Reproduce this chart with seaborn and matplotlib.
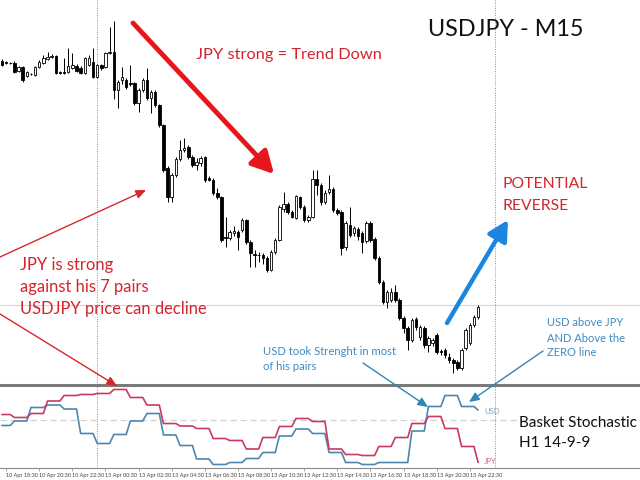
import numpy as np
import pandas as pd
import seaborn as sns
import matplotlib
matplotlib.use("Agg")
import matplotlib.pyplot as plt
from matplotlib.patches import FancyArrowPatch

sns.set_theme(style="white")
plt.rcParams['font.family'] = ['Lato', 'DejaVu Sans']

# USDJPY M15 candles, 10 Apr 18:15 .. 13 Apr 23:00 (price in chart points)
opens = [339, 338, 337, 337, 329, 333, 324, 326, 325, 333, 337, 341, 343, 344, 328, 328,
         328, 332, 334, 332, 327, 335, 338, 323, 335, 333, 347, 348,
         310, 320, 320, 317, 317, 297, 310, 320, 302, 308, 295, 275, 232, 203, 225, 241,
         250, 253, 243, 235, 237, 243, 222, 220, 207, 203,
         163, 162, 167, 168, 170, 180, 158, 146, 145, 145, 142, 130, 148, 160, 191, 196,
         188, 182, 203, 193, 180, 183, 221, 215, 198, 208, 211, 190, 188, 153, 175,
         167, 171, 167, 159, 177, 161, 142, 118, 98, 100, 108, 100, 82, 72, 60, 81,
         63, 72, 55, 57, 65, 49, 50, 43, 40, 38, 32, 52, 57, 75, 83]
highs = [341, 339, 338, 339, 334, 334, 329, 327, 334, 340, 345, 348, 346, 345, 329, 342,
         352, 347, 336, 334, 343, 345, 352, 336, 336, 348, 373, 379,
         320, 333, 322, 335, 318, 312, 322, 332, 310, 310, 296, 276, 234, 227, 243, 260,
         262, 255, 245, 242, 244, 244, 224, 222, 212, 204,
         183, 170, 174, 170, 182, 181, 160, 150, 148, 147, 144, 150, 162, 195, 208, 198,
         190, 205, 204, 195, 185, 230, 230, 217, 210, 225, 213, 192, 190, 179, 193,
         174, 173, 169, 179, 179, 163, 144, 120, 110, 112, 115, 102, 84, 74, 82, 83,
         75, 74, 64, 62, 67, 51, 52, 47, 42, 40, 52, 72, 77, 85, 95]
lows = [334, 336, 336, 327, 328, 318, 323, 325, 324, 332, 336, 340, 342, 326, 326, 326,
        327, 331, 328, 326, 326, 334, 322, 322, 330, 332, 346, 301,
        292, 316, 311, 314, 295, 288, 308, 300, 287, 293, 273, 228, 198, 198, 223, 239,
        248, 241, 233, 230, 234, 218, 219, 205, 201, 158,
        153, 160, 164, 150, 168, 156, 133, 133, 138, 136, 128, 129, 146, 159, 188, 186,
        182, 181, 191, 178, 178, 182, 205, 195, 196, 206, 188, 185, 145, 150, 163,
        164, 160, 147, 157, 158, 140, 116, 96, 92, 98, 98, 80, 67, 50, 58, 70,
        60, 52, 48, 54, 46, 45, 42, 37, 27, 30, 30, 50, 55, 73, 81]
closes = [335, 337, 337, 328, 333, 320, 328, 326, 333, 338, 342, 343, 344, 327, 327, 327,
          334, 335, 329, 327, 342, 342, 323, 335, 332, 347, 348, 310,
          318, 323, 313, 316, 297, 310, 320, 302, 308, 295, 275, 230, 203, 225, 241, 250,
          252, 243, 235, 238, 242, 220, 220, 207, 203, 160,
          162, 168, 169, 163, 180, 158, 147, 145, 145, 142, 130, 148, 160, 193, 196, 188,
          183, 204, 193, 180, 183, 221, 215, 198, 207, 211, 190, 187, 152, 177, 165,
          172, 164, 158, 177, 160, 142, 118, 98, 108, 108, 100, 82, 72, 60, 80, 73,
          73, 55, 62, 60, 48, 48, 45, 40, 37, 32, 50, 70, 75, 83, 93]

# Basket Stochastic H1 14-9-9, one value per hour (18:00 .. 23:00)
usd_h1 = [-11, -2, 25, 30, 22, -27, -47, -29, -2, 13, -30, -51, -78, -89, -85,
          -77, -65, -32, -18, -27, -65, -85, -89, -85, -85, -22, 27, 49, 27, 20]
jpy_h1 = [11, 5, 13, 38, 49, 51, 53, 61, 45, 30, -7, -12, -17, -37, -41,
          -58, -35, -13, 3, -3, -58, -69, -71, -53, -35, -7, 7, -17, -53, -85]
bars_per_hour = [3] + [4] * 28 + [1]

tick_labels = ["10 Apr 18:30", "10 Apr 20:30", "10 Apr 22:30", "13 Apr 00:30",
               "13 Apr 02:30", "13 Apr 04:30", "13 Apr 06:30", "13 Apr 08:30",
               "13 Apr 10:30", "13 Apr 12:30", "13 Apr 14:30", "13 Apr 16:30",
               "13 Apr 18:30", "13 Apr 20:30", "13 Apr 22:30"]

o = np.array(opens); h = np.array(highs); l = np.array(lows); c = np.array(closes)
x = np.arange(len(o))
up = c >= o

fig = plt.figure(figsize=(6.4, 4.8), dpi=100)
fig.patch.set_facecolor('white')
ax1 = fig.add_axes([0, 95 / 480, 1, 385 / 480])
ax2 = fig.add_axes([0, 12.3 / 480, 1, 82.7 / 480])
xlim = (-0.48, 154.1)

# price panel
ax1.axhline(95, color='#d6d6d6', lw=0.8, zorder=1)
ax1.vlines(x, l, h, color='black', lw=0.7, zorder=2)
ax1.bar(x[up], c[up] - o[up], bottom=o[up], width=0.6, color='white',
        edgecolor='black', lw=0.6, zorder=3)
ax1.bar(x[~up], o[~up] - c[~up], bottom=c[~up], width=0.6, color='black',
        edgecolor='black', lw=0.6, zorder=3)
ax1.set_xlim(*xlim)
ax1.set_ylim(15, 400)
ax1.set_xticks([]); ax1.set_yticks([])
for s in ax1.spines.values():
    s.set_visible(False)

# indicator panel
df = pd.DataFrame({
    'bar': np.concatenate([x, x]),
    'value': np.concatenate([np.repeat(usd_h1, bars_per_hour), np.repeat(jpy_h1, bars_per_hour)]),
    'currency': ['USD'] * len(x) + ['JPY'] * len(x),
})
ax2.axhline(0, color='#d0d0d0', ls=(0, (5, 3)), lw=0.9, zorder=1)
sns.lineplot(data=df, x='bar', y='value', hue='currency',
             palette={'USD': '#4e86ad', 'JPY': '#c93a5f'}, lw=1.2,
             errorbar=None, legend=False, ax=ax2)
ax2.text(116.4, 18, 'USD', fontsize=5.5, color='#7ca4c2', va='center')
ax2.text(116.4, -84, 'JPY', fontsize=5.5, color='#d46a88', va='center')
ax2.set_xlim(*xlim)
ax2.set_ylim(-95.4, 70)
ax2.set_yticks([])
ax2.set_xticks(range(1, 116, 8))
ax2.set_xticklabels(tick_labels, ha='left', fontsize=4, color='#444444')
ax2.tick_params(axis='x', length=2, width=0.5, color='#888888', pad=1.5, bottom=True)
ax2.set_xlabel(''); ax2.set_ylabel('')
ax2.set_facecolor('none')
for side in ['left', 'right']:
    ax2.spines[side].set_visible(False)
ax2.spines['top'].set_color('#7a7a7a'); ax2.spines['top'].set_linewidth(2.2)
ax2.spines['bottom'].set_color('#8a8a8a'); ax2.spines['bottom'].set_linewidth(0.8)

for ax in (ax1, ax2):
    for sep in (23, 119):
        ax.axvline(sep, color='#8c8c8c', ls=(0, (1, 1.5)), lw=0.7, zorder=1)


def fp(px, py):
    return (px / 640, 1 - py / 480)


def note(px, tops, lines, **kw):
    # one text per line, each placed at its own top edge (pixels from the top)
    for py, s in zip(tops, lines):
        fig.text(*fp(px, py), s, va='top', ha='left', **kw)


def arrow(a, b, color, lw, style, scale):
    fig.add_artist(FancyArrowPatch(fp(*a), fp(*b), transform=fig.transFigure,
                                   arrowstyle=style, mutation_scale=scale,
                                   color=color, lw=lw, shrinkA=0, shrinkB=0))


red = '#d3252c'
blue = '#3d8cc2'
note(428, [19], ['USDJPY - M15'], fontsize=16.8, color='#111111')
note(196, [48], ['JPY strong = Trend Down'], fontsize=11.8, color=red)
note(503, [177, 199], ['POTENTIAL', 'REVERSE'], fontsize=11.3, color=red)
note(20, [257, 279, 301], ['JPY is strong', 'against his 7 pairs', 'USDJPY price can decline'],
     fontsize=11.9, color=red)
note(263, [346, 361], ['USD took Strenght in most', 'of his pairs'], fontsize=8.1, color=blue)
note(547, [317, 333, 347], ['USD above JPY', 'AND Above the', 'ZERO line'],
     fontsize=8.0, color=blue)
note(519, [416, 436], ['Basket Stochastic', 'H1 14-9-9'], fontsize=11, color='#111111')

arrow((133, 23), (274, 174), '#e8161c', 3.5, '-|>,head_length=0.6,head_width=0.32', 22)
arrow((0, 257), (146, 190), '#d9262b', 1.0, '-|>,head_length=0.5,head_width=0.22', 12)
arrow((0, 314), (117, 386), '#d9262b', 1.0, '-|>,head_length=0.5,head_width=0.22', 12)
arrow((447, 323), (508, 220), '#1b86e0', 3.2, '-|>,head_length=0.6,head_width=0.32', 20)
arrow((363, 363), (428, 407), '#2f86b9', 1.0, '-|>,head_length=0.5,head_width=0.22', 12)
arrow((543, 351), (469, 402), '#2f86b9', 1.0, '-|>,head_length=0.5,head_width=0.22', 12)

fig.savefig('out.png', dpi=100, facecolor='white')
